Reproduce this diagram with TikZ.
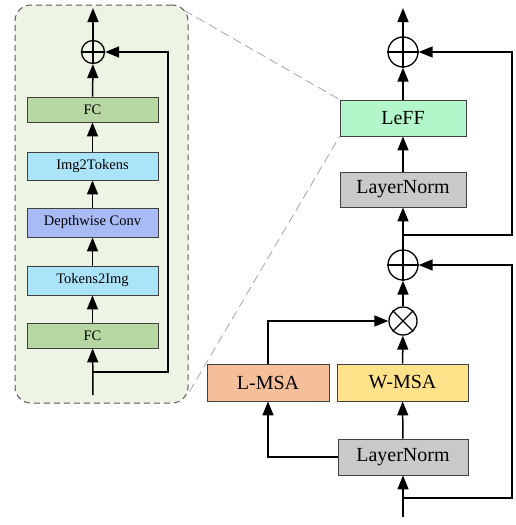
\documentclass[tikz,border=0pt]{standalone}
\usepackage{fontspec}
\setmainfont{Liberation Serif}
\usetikzlibrary{arrows.meta}

\definecolor{fcgreen}{HTML}{B6D7A1}
\definecolor{tokblue}{HTML}{ABE3F9}
\definecolor{dwblue}{HTML}{A9BBF5}
\definecolor{leffgreen}{HTML}{B3F6CA}
\definecolor{normgray}{HTML}{C9C9C9}
\definecolor{lmsaorange}{HTML}{F5BF9A}
\definecolor{wmsayellow}{HTML}{FFE28A}
\definecolor{panelgreen}{HTML}{EDF4E4}

\begin{document}
\begin{tikzpicture}[x=1pt,y=-1pt,
	blk/.style={draw=black!75,line width=0.9pt,inner sep=0pt},
	sblk/.style={blk,minimum width=131pt,font=\fontsize{14.5}{16}\selectfont},
	bblk/.style={blk,minimum height=36pt,font=\fontsize{20}{22}\selectfont},
	op/.style={circle,draw,line width=1.3pt,inner sep=0pt},
	flow/.style={line width=1.5pt,-{Triangle[length=14pt,width=11pt]}}]
	\useasboundingbox (0,0) rectangle (516,525);
	
	%zoom panel
	\node[draw=black!65,fill=panelgreen,dashed,dash pattern=on 6pt off 4pt,line width=1pt,
		rounded corners=16pt,minimum width=173pt,minimum height=398pt] (zoom) at (101.5,204) {};
	
	%left blocks
	\node[sblk,fill=fcgreen,minimum height=25pt] (fcb) at (92.5,335.5) {FC};
	\node[sblk,fill=tokblue,minimum height=29pt] (t2i) at (92.5,280.5) {Tokens2Img};
	\node[sblk,fill=dwblue,minimum height=29pt] (dw) at (92.5,222.5) {Depthwise Conv};
	\node[sblk,fill=tokblue,minimum height=28pt] (i2t) at (92.5,166) {Img2Tokens};
	\node[sblk,fill=fcgreen,minimum height=25pt] (fct) at (92.5,109.5) {FC};
	\node[op,minimum size=23pt] (addl) at (93,52) {};
	\draw[line width=1.3pt] (addl.north)--(addl.south) (addl.west)--(addl.east);
	\coordinate (inl) at (93,395);
	\coordinate (brl) at (93,372);
	\coordinate (outl) at (93,8);
	
	\draw[flow] (inl)--(fcb);
	\draw[flow] (fcb)--(t2i);
	\draw[flow] (t2i)--(dw);
	\draw[flow] (dw)--(i2t);
	\draw[flow] (i2t)--(fct);
	\draw[flow] (fct)--(addl);
	\draw[flow] (addl)--(outl);
	\draw[flow] (brl)--(168,372)--(168,52)--(addl);
	
	%right blocks
	\node[bblk,fill=normgray,minimum width=130pt] (ln1) at (403,457) {LayerNorm};
	\node[bblk,fill=lmsaorange,minimum width=122pt,minimum height=37pt] (lmsa) at (268,382.5) {L-MSA};
	\node[bblk,fill=wmsayellow,minimum width=131pt,minimum height=37pt] (wmsa) at (402.5,382.5) {W-MSA};
	\node[op,minimum size=28pt] (mul) at (403,321) {};
	\draw[line width=1.3pt] (mul.north east)--(mul.south west) (mul.north west)--(mul.south east);
	\node[op,minimum size=30pt] (add1) at (403,265) {};
	\draw[line width=1.3pt] (add1.north)--(add1.south) (add1.west)--(add1.east);
	\node[bblk,fill=normgray,minimum width=126pt,minimum height=35pt] (ln2) at (403,189.5) {LayerNorm};
	\node[bblk,fill=leffgreen,minimum width=126pt] (leff) at (403,118) {LeFF};
	\node[op,minimum size=30pt] (add2) at (403,52) {};
	\draw[line width=1.3pt] (add2.north)--(add2.south) (add2.west)--(add2.east);
	\coordinate (inr) at (403,517);
	\coordinate (br1) at (403,498);
	\coordinate (br2) at (403,235);
	\coordinate (outr) at (403,8);
	
	\draw[flow] (inr)--(ln1);
	\draw[flow] (ln1)--(wmsa);
	\draw[flow] (ln1.west)-|(lmsa.south);
	\draw[flow] (lmsa.north)|-(mul.west);
	\draw[flow] (wmsa)--(mul);
	\draw[flow] (mul)--(add1);
	\draw[flow] (br1)--(512,498)--(512,265)--(add1);
	\draw[flow] (add1)--(ln2);
	\draw[flow] (ln2)--(leff);
	\draw[flow] (leff)--(add2);
	\draw[flow] (br2)--(512,235)--(512,52)--(add2);
	\draw[flow] (add2)--(outr);
	
	%zoom lines
	\draw[gray!70,dashed,dash pattern=on 9pt off 5pt,line width=0.8pt] ([xshift=-4pt,yshift=-6pt]zoom.north east)--(leff.north west);
	\draw[gray!70,dashed,dash pattern=on 9pt off 5pt,line width=0.8pt] ([xshift=1pt,yshift=12pt]zoom.south east)--(leff.south west);
\end{tikzpicture}
\end{document}
